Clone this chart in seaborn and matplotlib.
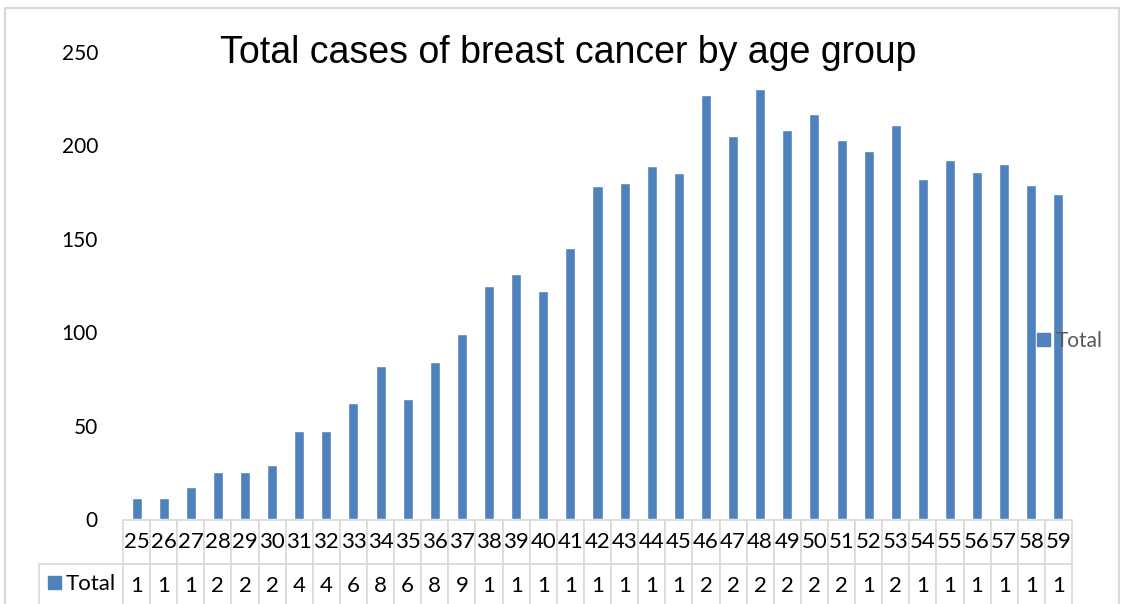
import matplotlib
matplotlib.use("Agg")
import matplotlib.pyplot as plt
import seaborn as sns
import pandas as pd
from matplotlib.patches import Patch, Rectangle

# values
ages = [str(a) for a in range(25, 60)]
cases = [11, 11, 17, 25, 25, 29, 47, 47, 62, 82, 64, 84, 99, 125, 131, 122, 145,
         178, 180, 189, 185, 227, 205, 230, 208, 217, 203, 197, 211, 182, 192,
         186, 190, 179, 174]
# the data table in the chart only shows the first digit of each value
table_digits = [str(v)[0] for v in cases]
series_name = 'Total'
title = 'Total cases of breast cancer by age group'
yticks = [0, 50, 100, 150, 200, 250]

blue = '#4F81BD'
grid_gray = '#D9D9D9'

sns.set_theme(style='white')
plt.rcParams['font.family'] = ['Lato', 'DejaVu Sans']

W, H = 1125, 604
fig = plt.figure(figsize=(W / 100, H / 100), dpi=100)

# plot area in pixels
left, right, bottom, top = 123, 1072, 519, 52
ax = fig.add_axes([left / W, 1 - bottom / H, (right - left) / W, (bottom - top) / H])

df = pd.DataFrame({'age': ages, 'cases': cases})
sns.barplot(data=df, x='age', y='cases', color=blue, saturation=1, width=0.37, ax=ax)

ax.set_xlim(-0.5, len(ages) - 0.5)
ax.set_ylim(0, 250)
ax.set_yticks(yticks)
ax.set_yticklabels([str(t) for t in yticks], fontsize=15, color='black')
ax.set_xticks([])
ax.set_xlabel('')
ax.set_ylabel('')
ax.tick_params(axis='y', length=0, pad=18)
for s in ax.spines.values():
    s.set_visible(False)

# data table under the plot
axw = right - left
axh = bottom - top
lab_w = 84
colw = axw / len(ages)
cell_rows = [[''] + ages, [''] + table_digits]
tab = ax.table(cellText=cell_rows,
               colWidths=[lab_w] + [colw] * len(ages),
               cellLoc='center',
               bbox=[-lab_w / axw, -(608 - bottom) / axh, (axw + lab_w) / axw, 88 / axh])
tab.auto_set_font_size(False)
tab.set_fontsize(16)
for (r, c), cell in tab.get_celld().items():
    cell.set_edgecolor(grid_gray)
    cell.set_linewidth(1.2)
    cell.get_text().set_fontfamily('Lato')
    cell.get_text().set_color('black')
    if r == 0 and c == 0:
        cell.visible_edges = 'open'

# row header "■ Total"
fig.patches.append(Rectangle((48 / W, 1 - 589 / H), 13 / W, 13 / H,
                             transform=fig.transFigure, color=blue))
fig.text(66 / W, 1 - 584 / H, series_name, fontsize=16, family='Lato',
         ha='left', va='center', color='black')

# legend on the right
ax.legend(handles=[Patch(color=blue, label=series_name)], loc='center left',
          bbox_to_anchor=(1037 / W, 1 - 341 / H), bbox_transform=fig.transFigure,
          frameon=False, fontsize=15, labelcolor='#595959', handlelength=0.62,
          handleheight=0.62, handletextpad=0.3, borderpad=0, borderaxespad=0)

fig.text(568 / W, 1 - 53 / H, title, fontsize=27, family='Liberation Sans',
         ha='center', va='center', color='black')

# chart border
fig.patches.append(Rectangle((5 / W, -0.02), 1114 / W, 1 - 8 / H + 0.02,
                             transform=fig.transFigure, fill=False,
                             edgecolor=grid_gray, linewidth=1.5))

fig.savefig('out.png', dpi=100)
